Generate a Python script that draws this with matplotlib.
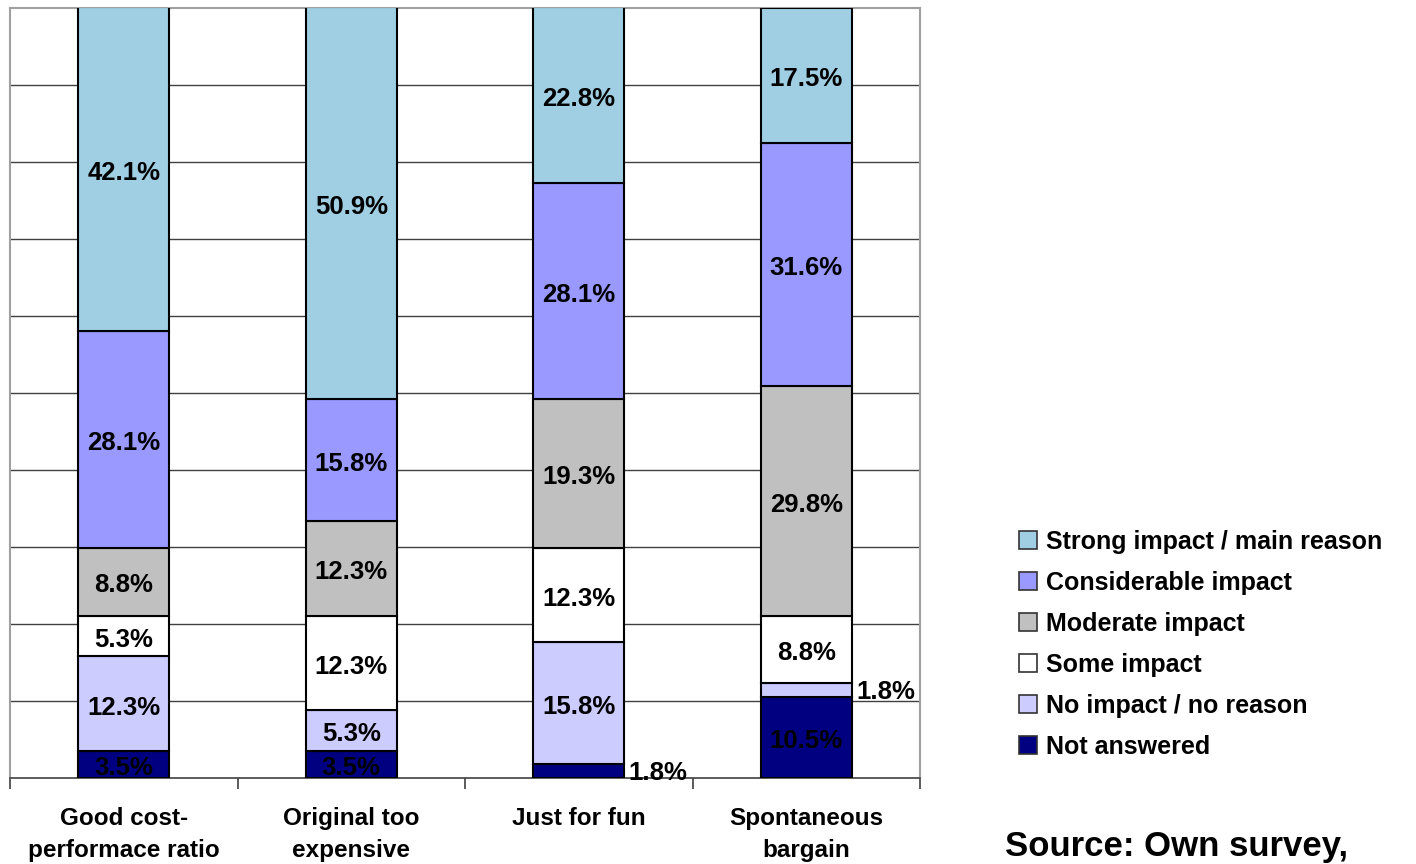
import matplotlib
matplotlib.use("Agg")
import matplotlib.pyplot as plt
import numpy as np
from matplotlib.patches import Patch

plt.rcParams["font.family"] = ["Liberation Sans", "DejaVu Sans"]
plt.rcParams["font.weight"] = "bold"

# ── Data (bottom to top of each stack) ───────────────────────────────────────
categories = ["Good cost-\nperformace ratio", "Original too\nexpensive",
              "Just for fun", "Spontaneous\nbargain"]
series = ["Not answered", "No impact / no reason", "Some impact",
          "Moderate impact", "Considerable impact", "Strong impact / main reason"]
not_answered = [3.5, 3.5, 1.8, 10.5]
no_impact = [12.3, 5.3, 15.8, 1.8]
some_impact = [5.3, 12.3, 12.3, 8.8]
moderate = [8.8, 12.3, 19.3, 29.8]
considerable = [28.1, 15.8, 28.1, 31.6]
strong = [42.1, 50.9, 22.8, 17.5]
values = [not_answered, no_impact, some_impact, moderate, considerable, strong]
colors = ["#000080", "#CCCCFF", "#FFFFFF", "#C0C0C0", "#9999FF", "#A0CFE4"]

fig = plt.figure(figsize=(14.16, 8.64), dpi=100)
ax = fig.add_axes([10 / 1416, 1 - 778 / 864, 910 / 1416, 770 / 864])

x = np.arange(len(categories))
width = 0.4
bottom = np.zeros(len(categories))
for vals, col in zip(values, colors):
    vals = np.array(vals)
    ax.bar(x, vals, width, bottom=bottom, color=col, edgecolor="black",
           linewidth=1.5, zorder=3)
    for xi, b, v in zip(x, bottom, vals):
        lbl = f"{v:.1f}%"
        if v < 3:
            # small segments get their label beside the bar
            ax.text(xi + width / 2 + 0.02, b + v / 2 - 0.2, lbl, ha="left",
                    va="center", fontsize=18.5, fontweight="bold", zorder=4)
        else:
            ax.text(xi, b + v / 2 - 0.5, lbl, ha="center", va="center",
                    fontsize=18.5, fontweight="bold", zorder=4)
    bottom += vals

ax.set_xlim(-0.5, len(categories) - 0.5)
ax.set_ylim(0, 100)
ax.set_yticks(np.arange(10, 100, 10))
ax.yaxis.grid(True, color="#404040", linewidth=1.0, zorder=0)
ax.tick_params(axis="y", length=0, labelleft=False)

ax.set_xticks(x)
ax.set_xticklabels(categories, fontsize=17.5, fontweight="bold", linespacing=1.48)
ax.set_xticks(np.arange(-0.5, len(categories), 1.0), minor=True)
ax.tick_params(axis="x", which="major", length=0, pad=21)
ax.tick_params(axis="x", which="minor", length=8, width=1.2, color="#404040")
for t in ax.get_xticklabels():
    t.set_verticalalignment("top")

for side in ["left", "right", "top"]:
    ax.spines[side].set_color("#A0A0A0")
    ax.spines[side].set_linewidth(1.5)
ax.spines["bottom"].set_color("#404040")
ax.spines["bottom"].set_linewidth(1.2)

handles = [Patch(facecolor=c, edgecolor="#333333", linewidth=1.2, label=s)
           for s, c in zip(series[::-1], colors[::-1])]
fig.legend(handles=handles, loc="upper left", bbox_to_anchor=(1019 / 1416, 1 - 530 / 864),
           frameon=False, handlelength=0.72, handleheight=0.72,
           handletextpad=0.35, labelspacing=0.68, borderpad=0, borderaxespad=0,
           prop={"weight": "bold", "size": 18})

# source note sits at the very bottom right, kept fully inside the canvas
fig.text(1005 / 1416, 1 / 864, "Source: Own survey,", ha="left", va="bottom",
         fontsize=25, fontweight="bold")

fig.savefig("out.png", dpi=100)
